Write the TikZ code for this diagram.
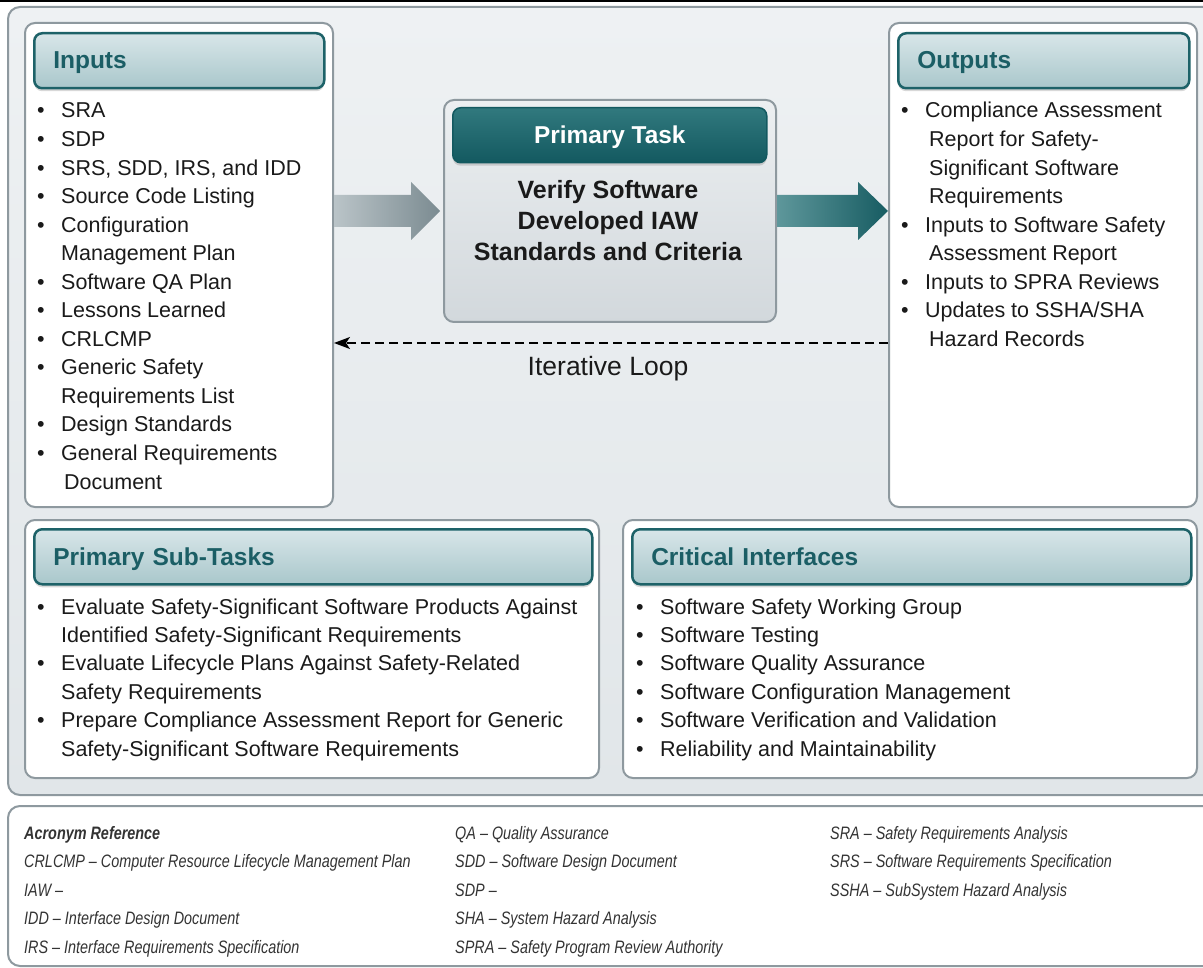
\documentclass[tikz,border=0pt]{standalone}
\usepackage{fontspec}
\setmainfont{Liberation Sans}
\newfontfamily\acrofont[FakeStretch=0.8]{Liberation Sans}
\usetikzlibrary{calc,shadows,arrows.meta}

\definecolor{panelA}{HTML}{EEF1F3}
\definecolor{panelB}{HTML}{E1E6E9}
\definecolor{frame}{HTML}{8E999F}
\definecolor{hdrA}{HTML}{D8E6E9}
\definecolor{hdrB}{HTML}{A9C7CB}
\definecolor{hdrline}{HTML}{1D6268}
\definecolor{tealtext}{HTML}{1B5E65}
\definecolor{ptA}{HTML}{ECEFF1}
\definecolor{ptB}{HTML}{D2D8DC}
\definecolor{pthA}{HTML}{31797E}
\definecolor{pthB}{HTML}{135960}
\definecolor{larA}{HTML}{BAC4C8}
\definecolor{larB}{HTML}{7B8B91}
\definecolor{rarA}{HTML}{5E979B}
\definecolor{rarB}{HTML}{175C62}
\definecolor{acro}{HTML}{333333}
\definecolor{body}{HTML}{1A1A1A}

\tikzset{
  panel/.style={draw=frame, line width=2pt, rounded corners=12pt, top color=panelA, bottom color=panelB},
  acrobox/.style={draw=frame, line width=2pt, rounded corners=12pt, fill=white},
  wbox/.style={draw=frame, line width=2pt, rounded corners=10pt, fill=white, inner sep=0pt, anchor=north west},
  hdr/.style={draw=hdrline, line width=2.5pt, rounded corners=8pt, top color=hdrA, bottom color=hdrB,
    drop shadow={shadow xshift=0pt, shadow yshift=-3pt, opacity=0.3},
    anchor=north west, minimum height=55pt, inner xsep=19pt, inner ysep=0pt, align=left,
    font=\bfseries\fontsize{24.5}{28}\selectfont, text=tealtext, text height=17.5pt, text depth=1pt},
  ptbox/.style={draw=frame, line width=2pt, rounded corners=10pt, top color=ptA, bottom color=ptB,
    anchor=north west, inner sep=0pt, minimum width=332pt, minimum height=222pt},
  pthdr/.style={draw=pthB, line width=1.5pt, rounded corners=8pt, top color=pthA, bottom color=pthB,
    drop shadow={shadow xshift=0pt, shadow yshift=-3pt, opacity=0.3},
    anchor=north west, inner sep=0pt, minimum width=314pt, minimum height=55pt,
    font=\bfseries\fontsize{24.4}{28}\selectfont, text=white, text height=17.5pt, text depth=1pt},
  pttext/.style={align=center, inner sep=0pt, font=\bfseries\fontsize{25}{31}\selectfont, text=body},
  item/.style={anchor=base west, inner sep=0pt, font=\fontsize{21.5}{26}\selectfont, text=body},
  acr/.style={anchor=base west, inner sep=0pt, font=\acrofont\itshape\fontsize{18}{20}\selectfont, text=acro},
  looplbl/.style={anchor=base, inner sep=0pt, font=\fontsize{26.5}{28}\selectfont, text=body},
  looparrow/.style={draw=black, line width=1.5pt, dash pattern=on 9pt off 5pt,
    -{Stealth[length=16pt,width=12pt,inset=4pt]}},
}

\begin{document}
\begin{tikzpicture}[x=1pt,y=-1pt]
\useasboundingbox (0,0) rectangle (1203,968);
\clip (0,0) rectangle (1203,968);
\fill[white] (0,0) rectangle (1203,968);
\draw[line width=2pt, black] (0,1) -- (1203,1);

% background panels
\path[panel] (8,7) rectangle (1230,795);
\path[acrobox] (8,806) rectangle (1230,966);

% white boxes
\node[wbox, minimum width=308pt, minimum height=484pt] (inbox) at (24,22) {};
\node[wbox, minimum width=308pt, minimum height=484pt] (outbox) at (888,22) {};
\node[wbox, minimum width=574pt, minimum height=258pt] (subbox) at (24,519) {};
\node[wbox, minimum width=574pt, minimum height=258pt] (critbox) at (622,519) {};

% headers
\node[hdr, text width=252pt] (inhdr) at (33,32) {Inputs};
\node[hdr, text width=253pt] (outhdr) at (897,32) {Outputs};
\node[hdr, text width=520pt] (subhdr) at (33,528) {Primary Sub-Tasks};
\node[hdr, text width=521pt] (crithdr) at (631,528) {Critical Interfaces};

% primary task
\node[ptbox] (ptask) at (443,99) {};
\node[pthdr] (pthead) at (452,107) {Primary Task};
\node[pttext] (ptbody) at (608,221) {Verify Software\\Developed IAW\\Standards and Criteria};

% block arrows
\shade[left color=larA, right color=larB]
  ($(inbox.east|-ptask.west)+(0,-16)$) -- ($(ptask.west)+(-32,-16)$) -- ($(ptask.west)+(-32,-29)$)
  -- ($(ptask.west)+(-3,0)$) -- ($(ptask.west)+(-32,29)$) -- ($(ptask.west)+(-32,16)$)
  -- ($(inbox.east|-ptask.west)+(0,16)$) -- cycle;
\shade[left color=rarA, right color=rarB]
  ($(ptask.east)+(0,-16)$) -- ($(outbox.west|-ptask.east)+(-30,-16)$) -- ($(outbox.west|-ptask.east)+(-30,-29)$)
  -- (outbox.west|-ptask.east) -- ($(outbox.west|-ptask.east)+(-30,29)$) -- ($(outbox.west|-ptask.east)+(-30,16)$)
  -- ($(ptask.east)+(0,16)$) -- cycle;

% iterative loop
\coordinate (loopy) at (0,343);
\draw[looparrow] (outbox.west|-loopy) -- (inbox.east|-loopy);
\node[looplbl] (looptext) at (608,376) {Iterative Loop};

% inputs list
\foreach \bu/\tx [count=\i from 0] in {•/SRA, •/SDP, •/{SRS, SDD, IRS, and IDD}, •/Source Code Listing,
  •/Configuration, {}/Management Plan, •/Software QA Plan, •/Lessons Learned, •/CRLCMP,
  •/Generic Safety, {}/Requirements List, •/Design Standards, •/General Requirements, {}/{\hspace*{3pt}Document}}
  \node[item] (in\i) at (37,{118+28.54*\i}) {\makebox[24pt][l]{\bu}\tx};

% outputs list
\foreach \bu/\tx [count=\i from 0] in {•/Compliance Assessment, {}/{\hspace*{4pt}Report for Safety-},
  {}/{\hspace*{4pt}Significant Software}, {}/{\hspace*{4pt}Requirements}, •/Inputs to Software Safety,
  {}/{\hspace*{4pt}Assessment Report}, •/Inputs to SPRA Reviews, •/{Updates to SSHA/SHA}, {}/{\hspace*{4pt}Hazard Records}}
  \node[item] (out\i) at (901,{118+28.54*\i}) {\makebox[24pt][l]{\bu}\tx};

% sub-tasks list
\foreach \bu/\tx [count=\i from 0] in {•/Evaluate Safety-Significant Software Products Against,
  {}/Identified Safety-Significant Requirements, •/Evaluate Lifecycle Plans Against Safety-Related,
  {}/Safety Requirements, •/Prepare Compliance Assessment Report for Generic,
  {}/Safety-Significant Software Requirements}
  \node[item] (sub\i) at (37,{614+28.45*\i}) {\makebox[24pt][l]{\bu}\tx};

% critical interfaces list
\foreach \bu/\tx [count=\i from 0] in {•/Software Safety Working Group, •/Software Testing,
  •/Software Quality Assurance, •/Software Configuration Management,
  •/Software Verification and Validation, •/Reliability and Maintainability}
  \node[item] (crit\i) at (636,{614+28.45*\i}) {\makebox[24pt][l]{\bu}\tx};

% acronyms
\foreach \tx [count=\i from 0] in {{\bfseries Acronym Reference}, CRLCMP – Computer Resource Lifecycle Management Plan,
  IAW –, IDD – Interface Design Document, IRS – Interface Requirements Specification}
  \node[acr] (acA\i) at (24,{839+28.5*\i}) {\tx};
\foreach \tx [count=\i from 0] in {QA – Quality Assurance, SDD – Software Design Document, SDP –,
  SHA – System Hazard Analysis, SPRA – Safety Program Review Authority}
  \node[acr] (acB\i) at (455,{839+28.5*\i}) {\tx};
\foreach \tx [count=\i from 0] in {SRA – Safety Requirements Analysis, SRS – Software Requirements Specification,
  SSHA – SubSystem Hazard Analysis}
  \node[acr] (acC\i) at (830,{839+28.5*\i}) {\tx};
\end{tikzpicture}
\end{document}
